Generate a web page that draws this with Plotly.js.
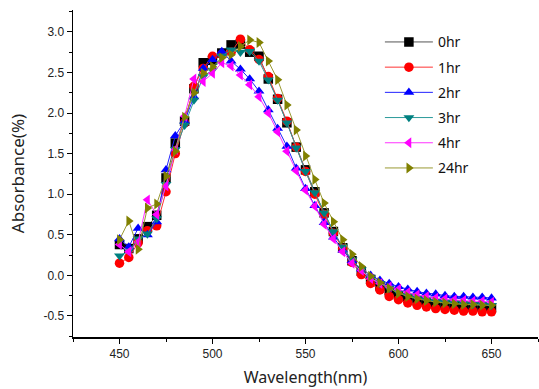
<!DOCTYPE html>
<html>
<head>
<meta charset="utf-8">
<script src="https://cdn.plot.ly/plotly-3.0.1.min.js"></script>
<style>html,body{margin:0;padding:0;background:#fff;}#chart{width:539px;height:389px;}</style>
</head>
<body>
<div id="chart"></div>
<script>
const wavelength = [450,455,460,465,470,475,480,485,490,495,500,505,510,515,520,525,530,535,540,545,550,555,560,565,570,575,580,585,590,595,600,605,610,615,620,625,630,635,640,645,650];
const seriesNames = ["0hr","1hr","2hr","3hr","4hr","24hr"];
const abs0hr = [0.38,0.33,0.45,0.60,0.74,1.20,1.63,1.90,2.30,2.62,2.65,2.74,2.84,2.85,2.75,2.70,2.42,2.17,1.88,1.58,1.30,1.03,0.77,0.54,0.34,0.18,0.05,-0.05,-0.13,-0.19,-0.24,-0.28,-0.31,-0.33,-0.35,-0.36,-0.37,-0.38,-0.39,-0.39,-0.40];
const abs1hr = [0.15,0.22,0.40,0.55,0.61,1.03,1.50,1.88,2.33,2.55,2.70,2.72,2.75,2.91,2.78,2.66,2.45,2.18,1.90,1.58,1.28,1.00,0.75,0.52,0.33,0.16,0.01,-0.10,-0.18,-0.26,-0.30,-0.34,-0.37,-0.39,-0.41,-0.42,-0.43,-0.44,-0.44,-0.45,-0.45];
const abs2hr = [0.45,0.35,0.58,0.50,0.66,1.30,1.72,1.90,2.20,2.55,2.66,2.76,2.64,2.54,2.42,2.27,2.04,1.81,1.59,1.32,1.07,0.86,0.65,0.47,0.31,0.18,0.08,0.00,-0.06,-0.10,-0.14,-0.17,-0.20,-0.22,-0.23,-0.25,-0.26,-0.26,-0.27,-0.27,-0.28];
const abs3hr = [0.24,0.30,0.45,0.51,0.70,1.12,1.55,1.85,2.16,2.45,2.53,2.70,2.78,2.75,2.76,2.64,2.41,2.16,1.88,1.57,1.28,1.02,0.77,0.54,0.35,0.19,0.07,-0.03,-0.10,-0.16,-0.21,-0.25,-0.28,-0.30,-0.32,-0.33,-0.34,-0.35,-0.36,-0.36,-0.37];
const abs4hr = [0.38,0.29,0.41,0.93,0.75,1.10,1.55,1.96,2.42,2.39,2.49,2.62,2.58,2.47,2.35,2.20,2.00,1.77,1.53,1.29,1.05,0.85,0.63,0.45,0.29,0.15,0.06,-0.04,-0.10,-0.14,-0.17,-0.21,-0.24,-0.26,-0.28,-0.29,-0.30,-0.31,-0.32,-0.32,-0.33];
const abs24hr = [0.44,0.67,0.32,0.83,0.88,1.22,1.53,1.95,2.25,2.49,2.57,2.68,2.72,2.82,2.90,2.87,2.64,2.41,2.10,1.79,1.47,1.18,0.89,0.66,0.44,0.26,0.11,-0.01,-0.09,-0.16,-0.22,-0.26,-0.29,-0.31,-0.33,-0.34,-0.35,-0.36,-0.36,-0.37,-0.37];
const xTickVals = [450,500,550,600,650];
const yTickVals = [-0.5,0.0,0.5,1.0,1.5,2.0,2.5,3.0];

const allY = [abs0hr,abs1hr,abs2hr,abs3hr,abs4hr,abs24hr];
const colors = ["#000000","#ff0000","#0000ff","#008080","#ff00ff","#808000"];
const lineColors = ["#555555","#ff3333","#2222ff","#2a9a9a","#ff33ff","#9a9a33"];
const symbols = ["square","circle","triangle-up","triangle-down","triangle-left","triangle-right"];

const traces = seriesNames.map((n,i)=>({
  x: wavelength, y: allY[i], name: n, type: "scatter", mode: "lines+markers",
  legendgroup: n,
  line: {color: lineColors[i], width: 1},
  marker: {symbol: symbols[i], color: colors[i], size: 9.5, line: {width: 0}}
}));

const layout = {
  width: 539, height: 389,
  margin: {l: 73, r: 1, t: 10, b: 52},
  paper_bgcolor: "#fff", plot_bgcolor: "#fff",
  font: {family: "Noto Sans, Liberation Sans, sans-serif", color: "#222"},
  showlegend: true,
  legend: {x: 0.66, y: 0.95, xanchor: "left", yanchor: "top", bgcolor: "rgba(0,0,0,0)",
           font: {size: 14, color: "#111"}, traceorder: "grouped", tracegroupgap: 4,
           itemwidth: 48},
  xaxis: {range: [425, 675], tickvals: xTickVals, ticktext: xTickVals.map(String),
          ticks: "outside", ticklen: 5, tickwidth: 1, tickcolor: "#000",
          minor: {dtick: 25, tick0: 450, ticks: "outside", ticklen: 3, tickcolor: "#000"},
          showline: true, linecolor: "#000", linewidth: 1.5, showgrid: false, zeroline: false,
          tickfont: {size: 12, family: "Liberation Sans, Arial, sans-serif", color: "#222"},
          title: {text: "Wavelength(nm)", font: {size: 16, color: "#222"}, standoff: 12}},
  yaxis: {range: [-0.76, 3.27], tickvals: yTickVals, ticktext: yTickVals.map(v=>v.toFixed(1)),
          ticks: "outside", ticklen: 5, tickwidth: 1, tickcolor: "#000",
          minor: {dtick: 0.25, tick0: 0, ticks: "outside", ticklen: 3, tickcolor: "#000"},
          showline: true, linecolor: "#000", linewidth: 1.5, showgrid: false, zeroline: false,
          tickfont: {size: 12, family: "Liberation Sans, Arial, sans-serif", color: "#222"},
          title: {text: "Absorbance(%)", font: {size: 17, color: "#222"}, standoff: 14}}
};

Plotly.newPlot("chart", traces, layout, {displayModeBar: false, staticPlot: true});
</script>
</body>
</html>
